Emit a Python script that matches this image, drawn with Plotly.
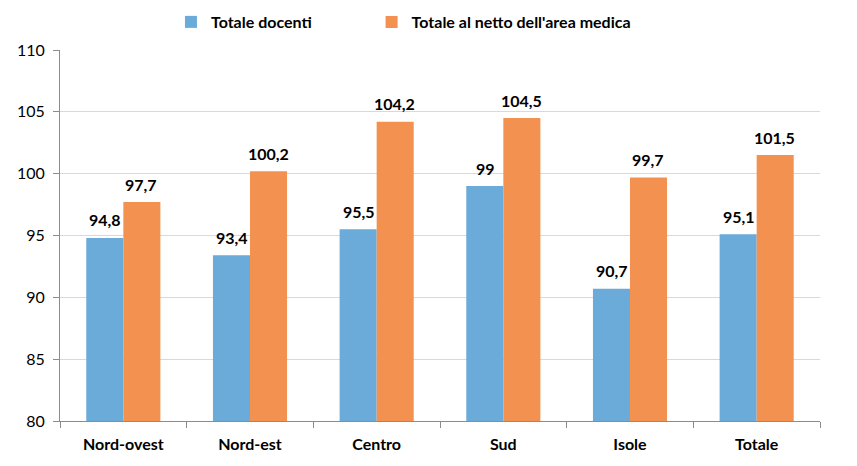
import plotly.graph_objects as go

categories = ["Nord-ovest", "Nord-est", "Centro", "Sud", "Isole", "Totale"]
totale_docenti = [94.8, 93.4, 95.5, 99, 90.7, 95.1]
totale_netto = [97.7, 100.2, 104.2, 104.5, 99.7, 101.5]
labels_docenti = ["94,8", "93,4", "95,5", "99", "90,7", "95,1"]
labels_netto = ["97,7", "100,2", "104,2", "104,5", "99,7", "101,5"]
y_ticks = [80, 85, 90, 95, 100, 105, 110]

font_family = "Lato, 'Open Sans', sans-serif"
label_font = dict(size=16, color="#000000", family=font_family, weight="bold")
legend_font = dict(size=16, color="#000000", family=font_family, weight="bold")

fig = go.Figure()
fig.add_trace(go.Bar(
    x=categories, y=totale_docenti, base=0, name="Totale docenti",
    marker=dict(color="#6AABDA", line=dict(width=0)),
    offsetgroup="a", legend="legend",
))
fig.add_trace(go.Bar(
    x=categories, y=totale_netto, base=0, name="Totale al netto dell'area medica",
    marker=dict(color="#F39150", line=dict(width=0)),
    offsetgroup="b", legend="legend2",
))

# value labels, positioned through the axes
for i, cat in enumerate(categories):
    fig.add_annotation(x=i, y=totale_docenti[i], xref="x", yref="y",
                       text=labels_docenti[i], showarrow=False,
                       xshift=-18, yshift=18, font=label_font)
    fig.add_annotation(x=i, y=totale_netto[i], xref="x", yref="y",
                       text=labels_netto[i], showarrow=False,
                       xshift=18, yshift=18, font=label_font)

fig.update_layout(
    width=857, height=466,
    margin=dict(l=52, r=45, t=42, b=53, autoexpand=False),
    paper_bgcolor="white", plot_bgcolor="white",
    barmode="group", bargap=0.415, bargroupgap=0,
    font=dict(family=font_family, color="#000000"),
    showlegend=True,
    legend=dict(orientation="h", x=0.146, xanchor="left",
                yref="container", y=0.97, yanchor="middle",
                font=legend_font, itemwidth=30),
    legend2=dict(orientation="h", x=0.41, xanchor="left",
                 yref="container", y=0.97, yanchor="middle",
                 font=legend_font, itemwidth=30),
    xaxis=dict(
        showline=True, linecolor="#8C8C8C", linewidth=1,
        ticks="outside", ticklen=6, tickcolor="#8C8C8C",
        tickson="boundaries", automargin=False,
        ticklabelstandoff=9,
        tickfont=dict(size=16, family=font_family, weight="bold"),
        showgrid=False,
    ),
    yaxis=dict(
        range=[80, 110], tickvals=y_ticks, ticktext=[str(v) for v in y_ticks],
        showline=True, linecolor="#8C8C8C", linewidth=1,
        ticks="outside", ticklen=6, tickcolor="#8C8C8C",
        gridcolor="#D9D9D9", gridwidth=1, automargin=False,
        ticklabelstandoff=5,
        tickfont=dict(size=16, family=font_family),
        zeroline=False,
    ),
)

fig.write_html("out.html")
